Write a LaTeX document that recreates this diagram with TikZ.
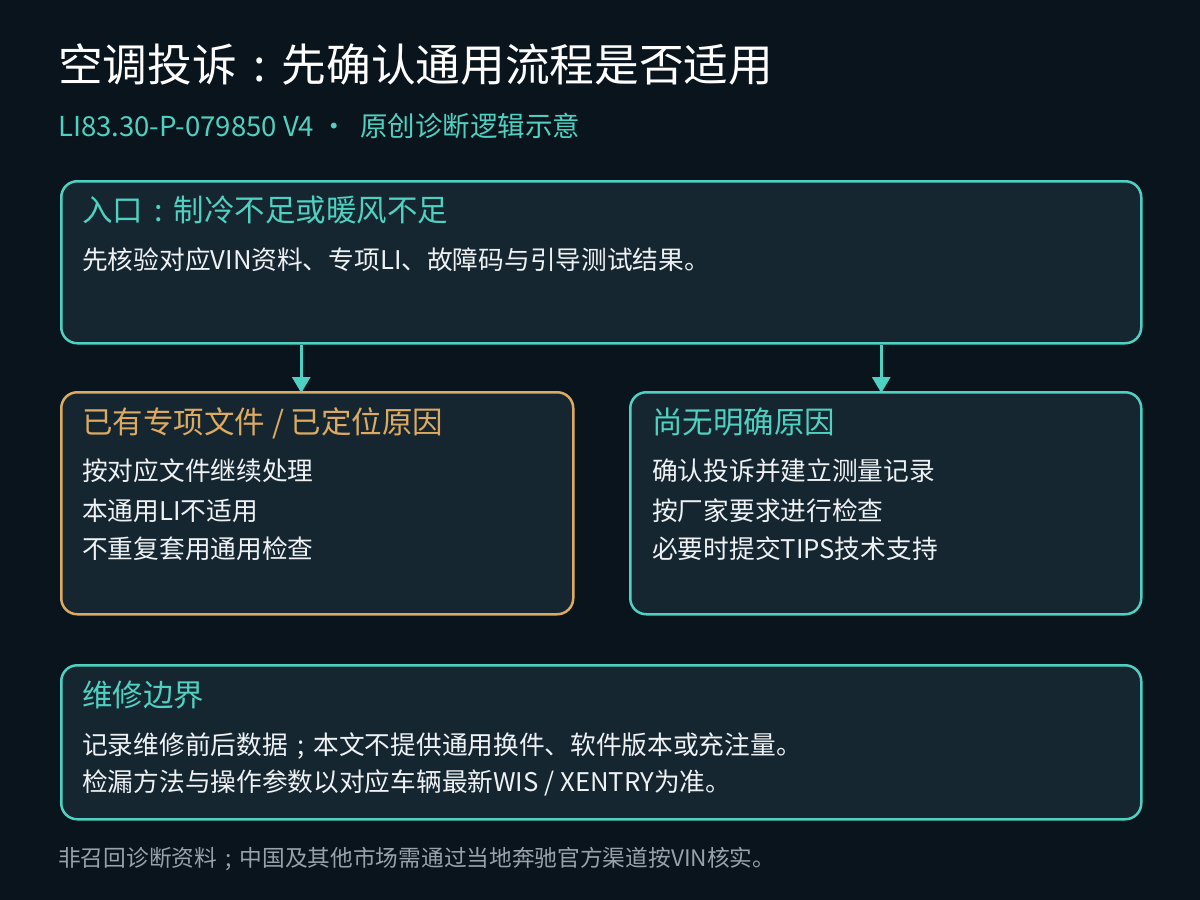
\documentclass[tikz,border=0pt]{standalone}
\usepackage{fontspec}
\setmainfont{Noto Sans CJK SC}
\usetikzlibrary{arrows.meta}

\definecolor{bgcol}{HTML}{0A141D}
\definecolor{boxfill}{HTML}{162631}
\definecolor{teal}{HTML}{4FD1C1}
\definecolor{amber}{HTML}{DDAA62}
\definecolor{bodytext}{HTML}{EEF2F4}
\definecolor{foottext}{HTML}{98A2AC}

\newcommand{\headfont}{\fontsize{44.7}{50}\selectfont}
\newcommand{\subfont}{\fontsize{27.5}{32}\selectfont}
\newcommand{\boxhead}{\fontsize{30.5}{36}\selectfont}
\newcommand{\boxbody}{\fontsize{25.7}{30}\selectfont}
\newcommand{\footfont}{\fontsize{22.7}{26}\selectfont}
\newcommand{\midcolon}{\makebox[1em][c]{:}}
\newcommand{\midsemi}{\makebox[1em][c]{;}}

\begin{document}
\begin{tikzpicture}[x=1pt,y=-1pt,
  main box/.style={draw, line width=2.5pt, rounded corners=16pt, fill=boxfill, anchor=north west, inner sep=0pt},
  txt/.style={anchor=base west, inner sep=0pt},
  flow/.style={-{Triangle[width=18pt,length=16pt]}, line width=3pt, teal}]
  \fill[bgcol] (0,0) rectangle (1200,900);
  \useasboundingbox (0,0) rectangle (1200,900);

  % heading
  \node[txt, text=white] (title) at (58,81) {\headfont 空调投诉\midcolon 先确认通用流程是否适用};
  \node[txt, text=teal] (subtitle) at (58,136) {\subfont LI83.30-P-079850 V4 · \ 原创诊断逻辑示意};

  % boxes
  \node[main box, draw=teal, minimum width=1080pt, minimum height=162pt] (entry) at (60,180) {};
  \node[main box, draw=amber, minimum width=512pt, minimum height=222pt] (left) at (60,391) {};
  \node[main box, draw=teal, minimum width=511pt, minimum height=222pt] (right) at (629,391) {};
  \node[main box, draw=teal, minimum width=1080pt, minimum height=154pt] (limit) at (60,664) {};

  % entry
  \node[txt, text=teal] (entryhead) at (82,221) {\boxhead 入口\midcolon 制冷不足或暖风不足};
  \node[txt, text=bodytext] (entrybody) at (82,269) {\boxbody 先核验对应VIN资料、专项LI、故障码与引导测试结果。};

  % left branch
  \node[txt, text=amber] (lefthead) at (82,433) {\boxhead 已有专项文件 / 已定位原因};
  \node[txt, text=bodytext] (left1) at (82,480) {\boxbody 按对应文件继续处理};
  \node[txt, text=bodytext] (left2) at (82,520) {\boxbody 本通用LI不适用};
  \node[txt, text=bodytext] (left3) at (82,558) {\boxbody 不重复套用通用检查};

  % right branch
  \node[txt, text=teal] (righthead) at (652,433) {\boxhead 尚无明确原因};
  \node[txt, text=bodytext] (right1) at (652,480) {\boxbody 确认投诉并建立测量记录};
  \node[txt, text=bodytext] (right2) at (652,520) {\boxbody 按厂家要求进行检查};
  \node[txt, text=bodytext] (right3) at (652,558) {\boxbody 必要时提交TIPS技术支持};

  % boundary
  \node[txt, text=teal] (limithead) at (82,706) {\boxhead 维修边界};
  \node[txt, text=bodytext] (limit1) at (82,754) {\boxbody 记录维修前后数据\midsemi 本文不提供通用换件、软件版本或充注量。};
  \node[txt, text=bodytext] (limit2) at (82,791) {\boxbody 检漏方法与操作参数以对应车辆最新WIS / XENTRY为准。};

  % footer
  \node[txt, text=foottext] (footer) at (58,866) {\footfont 非召回诊断资料\midsemi 中国及其他市场需通过当地奔驰官方渠道按VIN核实。};

  % arrows
  \path[] ([xshift=-16pt]entry.south -| left.north) [flow] edge node [] {} ([xshift=-16pt,yshift=-2pt]left.north);
  \path[] ([xshift=-4.5pt]entry.south -| right.north) [flow] edge node [] {} ([xshift=-4.5pt,yshift=-2pt]right.north);
\end{tikzpicture}
\end{document}
